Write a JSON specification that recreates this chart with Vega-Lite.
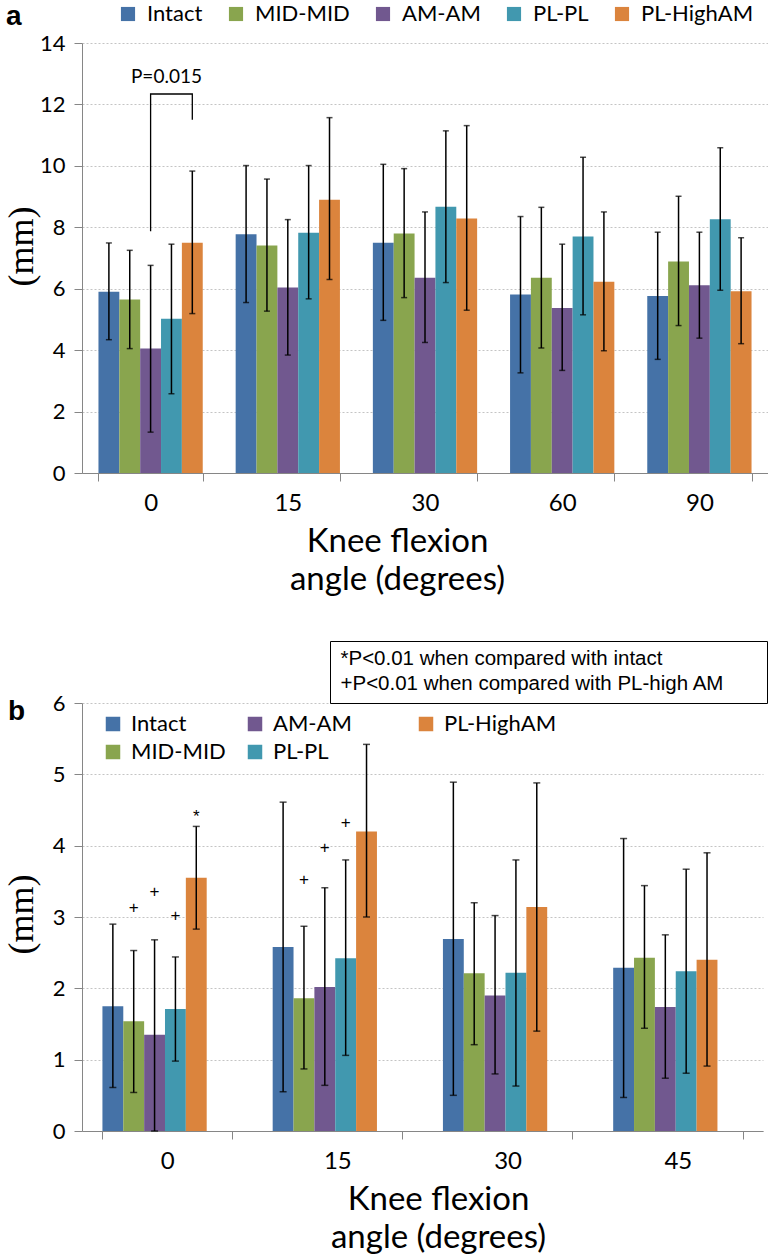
{
  "$schema": "https://vega.github.io/schema/vega-lite/v6.json",
  "padding": {"top": 3, "left": 3, "right": 0, "bottom": 0},
  "background": "white",
  "spacing": 44,
  "resolve": {"legend": {"color": "independent", "shape": "independent"}, "scale": {"color": "independent"}},
  "config": {
    "font": "Lato",
    "view": {"stroke": null},
    "axis": {
      "domainColor": "#868686",
      "tickColor": "#868686",
      "labelColor": "#000000",
      "titleColor": "#000000",
      "labelFont": "Lato",
      "titleFont": "Lato",
      "gridColor": "#c4c4c4",
      "gridDash": [2, 2],
      "tickSize": 8
    },
    "legend": {"padding": 0}
  },
  "datasets": {
    "a": [
      {"angle": "0", "group": "Intact", "mean": 5.9, "lo": 4.34, "hi": 7.49},
      {"angle": "0", "group": "MID-MID", "mean": 5.65, "lo": 4.05, "hi": 7.25},
      {"angle": "0", "group": "AM-AM", "mean": 4.05, "lo": 1.33, "hi": 6.76},
      {"angle": "0", "group": "PL-PL", "mean": 5.02, "lo": 2.58, "hi": 7.45},
      {"angle": "0", "group": "PL-HighAM", "mean": 7.5, "lo": 5.19, "hi": 9.83},
      {"angle": "15", "group": "Intact", "mean": 7.77, "lo": 5.55, "hi": 10.01},
      {"angle": "15", "group": "MID-MID", "mean": 7.41, "lo": 5.27, "hi": 9.57},
      {"angle": "15", "group": "AM-AM", "mean": 6.04, "lo": 3.84, "hi": 8.25},
      {"angle": "15", "group": "PL-PL", "mean": 7.82, "lo": 5.67, "hi": 10.01},
      {"angle": "15", "group": "PL-HighAM", "mean": 8.9, "lo": 6.3, "hi": 11.57},
      {"angle": "30", "group": "Intact", "mean": 7.5, "lo": 4.97, "hi": 10.05},
      {"angle": "30", "group": "MID-MID", "mean": 7.8, "lo": 5.71, "hi": 9.91},
      {"angle": "30", "group": "AM-AM", "mean": 6.36, "lo": 4.25, "hi": 8.5},
      {"angle": "30", "group": "PL-PL", "mean": 8.67, "lo": 6.2, "hi": 11.14},
      {"angle": "30", "group": "PL-HighAM", "mean": 8.29, "lo": 5.3, "hi": 11.31},
      {"angle": "60", "group": "Intact", "mean": 5.81, "lo": 3.26, "hi": 8.35},
      {"angle": "60", "group": "MID-MID", "mean": 6.36, "lo": 4.07, "hi": 8.65},
      {"angle": "60", "group": "AM-AM", "mean": 5.37, "lo": 3.34, "hi": 7.45},
      {"angle": "60", "group": "PL-PL", "mean": 7.7, "lo": 5.15, "hi": 10.28},
      {"angle": "60", "group": "PL-HighAM", "mean": 6.23, "lo": 3.98, "hi": 8.5},
      {"angle": "90", "group": "Intact", "mean": 5.76, "lo": 3.7, "hi": 7.84},
      {"angle": "90", "group": "MID-MID", "mean": 6.89, "lo": 4.8, "hi": 9.01},
      {"angle": "90", "group": "AM-AM", "mean": 6.11, "lo": 4.39, "hi": 7.84},
      {"angle": "90", "group": "PL-PL", "mean": 8.26, "lo": 5.95, "hi": 10.59},
      {"angle": "90", "group": "PL-HighAM", "mean": 5.92, "lo": 4.21, "hi": 7.66}
    ],
    "b": [
      {"angle": "0", "group": "Intact", "mean": 1.75, "lo": 0.61, "hi": 2.9},
      {"angle": "0", "group": "MID-MID", "mean": 1.54, "lo": 0.54, "hi": 2.53},
      {"angle": "0", "group": "AM-AM", "mean": 1.35, "lo": 0.0, "hi": 2.68},
      {"angle": "0", "group": "PL-PL", "mean": 1.71, "lo": 0.98, "hi": 2.44},
      {"angle": "0", "group": "PL-HighAM", "mean": 3.55, "lo": 2.83, "hi": 4.27},
      {"angle": "15", "group": "Intact", "mean": 2.58, "lo": 0.55, "hi": 4.61},
      {"angle": "15", "group": "MID-MID", "mean": 1.86, "lo": 0.87, "hi": 2.87},
      {"angle": "15", "group": "AM-AM", "mean": 2.02, "lo": 0.64, "hi": 3.41},
      {"angle": "15", "group": "PL-PL", "mean": 2.42, "lo": 1.06, "hi": 3.8},
      {"angle": "15", "group": "PL-HighAM", "mean": 4.2, "lo": 3.0, "hi": 5.42},
      {"angle": "30", "group": "Intact", "mean": 2.69, "lo": 0.5, "hi": 4.89},
      {"angle": "30", "group": "MID-MID", "mean": 2.21, "lo": 1.21, "hi": 3.2},
      {"angle": "30", "group": "AM-AM", "mean": 1.9, "lo": 0.8, "hi": 3.02},
      {"angle": "30", "group": "PL-PL", "mean": 2.22, "lo": 0.63, "hi": 3.8},
      {"angle": "30", "group": "PL-HighAM", "mean": 3.14, "lo": 1.4, "hi": 4.88},
      {"angle": "45", "group": "Intact", "mean": 2.29, "lo": 0.47, "hi": 4.1},
      {"angle": "45", "group": "MID-MID", "mean": 2.43, "lo": 1.44, "hi": 3.44},
      {"angle": "45", "group": "AM-AM", "mean": 1.74, "lo": 0.74, "hi": 2.75},
      {"angle": "45", "group": "PL-PL", "mean": 2.24, "lo": 0.81, "hi": 3.67},
      {"angle": "45", "group": "PL-HighAM", "mean": 2.4, "lo": 0.91, "hi": 3.9}
    ],
    "bracket": [
      {"angle": "0", "group": "AM-AM", "y": 7.87, "o": 1},
      {"angle": "0", "group": "AM-AM", "y": 12.34, "o": 2},
      {"angle": "0", "group": "PL-HighAM", "y": 12.34, "o": 3},
      {"angle": "0", "group": "PL-HighAM", "y": 11.5, "o": 4}
    ],
    "ptext": [
      {"angle": "0", "group": "PL-PL", "y": 12.9, "label": "P=0.015"}
    ],
    "signs": [
      {"angle": "0", "group": "MID-MID", "y": 3.12, "sym": "+"},
      {"angle": "0", "group": "AM-AM", "y": 3.35, "sym": "+"},
      {"angle": "0", "group": "PL-PL", "y": 3.01, "sym": "+"},
      {"angle": "0", "group": "PL-HighAM", "y": 4.4, "sym": "*"},
      {"angle": "15", "group": "MID-MID", "y": 3.52, "sym": "+"},
      {"angle": "15", "group": "AM-AM", "y": 3.97, "sym": "+"},
      {"angle": "15", "group": "PL-PL", "y": 4.32, "sym": "+"}
    ],
    "notes": [
      {"note": "*P<0.01 when compared with intact"},
      {"note": "+P<0.01 when compared with PL-high AM"}
    ]
  },
  "vconcat": [
    {
      "width": 686,
      "height": 430,
      "title": {"text": "a", "anchor": "start", "frame": "bounds", "font": "Liberation Sans", "fontSize": 28, "fontWeight": "bold", "color": "#000000", "offset": -28, "dx": 3, "baseline": "top"},
      "encoding": {
        "x": {
          "field": "angle", "type": "nominal", "sort": ["0", "15", "30", "60", "90"],
          "scale": {"paddingInner": 0.24, "paddingOuter": 0.12},
          "axis": {
            "labelAngle": 0, "labelFontSize": 24, "labelPadding": 10, "tickBand": "extent", "grid": false,
            "title": ["Knee flexion", "angle (degrees)"], "titleFontSize": 33, "titleFontWeight": "normal",
            "titleLineHeight": 38, "titlePadding": 10, "titleX": 315
          }
        },
        "xOffset": {
          "field": "group", "type": "nominal",
          "scale": {"domain": ["Intact", "MID-MID", "AM-AM", "PL-PL", "PL-HighAM"], "paddingInner": 0, "paddingOuter": 0}
        }
      },
      "layer": [
        {
          "data": {"name": "a"},
          "mark": {"type": "bar"},
          "encoding": {
            "y": {
              "field": "mean", "type": "quantitative",
              "scale": {"domain": [0, 14], "nice": false},
              "axis": {
                "values": [0, 2, 4, 6, 8, 10, 12, 14], "labelFontSize": 22, "labelPadding": 9, "grid": true,
                "title": "(mm)", "titleFont": "Liberation Serif", "titleFontSize": 36, "titleFontWeight": "normal",
                "titleX": -61, "titleY": 203, "titleAngle": 270, "titleAlign": "center", "titleBaseline": "middle"
              }
            },
            "color": {
              "field": "group", "type": "nominal",
              "scale": {"domain": ["Intact", "MID-MID", "AM-AM", "PL-PL", "PL-HighAM"], "range": ["#4572A7", "#89A54E", "#71588F", "#4198AF", "#DB843D"]},
              "legend": {
                "title": null, "orient": "none", "direction": "horizontal", "legendX": 35, "legendY": -40,
                "symbolType": "square", "symbolSize": 200, "symbolStrokeWidth": 0, "labelFontSize": 22, "labelFont": "Lato",
                "labelColor": "#000000", "labelOffset": 8, "columnPadding": 22
              }
            }
          }
        },
        {
          "data": {"name": "a"},
          "mark": {"type": "rule", "color": "#000000", "strokeWidth": 1.5},
          "encoding": {"y": {"field": "lo", "type": "quantitative"}, "y2": {"field": "hi"}}
        },
        {
          "data": {"name": "a"},
          "mark": {"type": "tick", "color": "#000000", "size": 6, "thickness": 1.5},
          "encoding": {"y": {"field": "hi", "type": "quantitative"}}
        },
        {
          "data": {"name": "a"},
          "mark": {"type": "tick", "color": "#000000", "size": 6, "thickness": 1.5},
          "encoding": {"y": {"field": "lo", "type": "quantitative"}}
        },
        {
          "data": {"name": "bracket"},
          "mark": {"type": "line", "color": "#000000", "strokeWidth": 1.3},
          "encoding": {"y": {"field": "y", "type": "quantitative"}, "order": {"field": "o"}}
        },
        {
          "data": {"name": "ptext"},
          "mark": {"type": "text", "fontSize": 19, "font": "Lato", "color": "#000000", "baseline": "middle", "dx": -5},
          "encoding": {"y": {"field": "y", "type": "quantitative"}, "text": {"field": "label"}}
        }
      ]
    },
    {
      "width": 681,
      "height": 428,
      "title": {"text": "b", "anchor": "start", "frame": "bounds", "font": "Liberation Sans", "fontSize": 28, "fontWeight": "bold", "color": "#000000", "offset": -85, "dx": 5, "baseline": "top"},
      "encoding": {
        "x": {
          "field": "angle", "type": "nominal", "sort": ["0", "15", "30", "45"],
          "scale": {"paddingInner": 0.24, "paddingOuter": 0.12},
          "axis": {
            "labelAngle": 0, "labelFontSize": 24, "labelPadding": 10, "tickBand": "extent", "grid": false,
            "title": ["Knee flexion", "angle (degrees)"], "titleFontSize": 33, "titleFontWeight": "normal",
            "titleLineHeight": 38, "titlePadding": 10, "titleX": 356
          }
        },
        "xOffset": {
          "field": "group", "type": "nominal",
          "scale": {"domain": ["Intact", "MID-MID", "AM-AM", "PL-PL", "PL-HighAM"], "paddingInner": 0, "paddingOuter": 0}
        }
      },
      "layer": [
        {
          "data": {"name": "b"},
          "mark": {"type": "bar"},
          "encoding": {
            "y": {
              "field": "mean", "type": "quantitative",
              "scale": {"domain": [0, 6], "nice": false},
              "axis": {
                "values": [0, 1, 2, 3, 4, 5, 6], "format": "d", "labelFontSize": 22, "labelPadding": 9, "grid": true,
                "title": "(mm)", "titleFont": "Liberation Serif", "titleFontSize": 36, "titleFontWeight": "normal",
                "titleX": -61, "titleY": 211, "titleAngle": 270, "titleAlign": "center", "titleBaseline": "middle"
              }
            },
            "color": {
              "field": "group", "type": "nominal",
              "scale": {"domain": ["Intact", "MID-MID", "AM-AM", "PL-PL", "PL-HighAM"], "range": ["#4572A7", "#89A54E", "#71588F", "#4198AF", "#DB843D"]},
              "legend": {
                "title": null, "orient": "none", "columns": 3, "legendX": 20, "legendY": 10,
                "symbolType": "square", "symbolSize": 210, "symbolStrokeWidth": 0, "labelFontSize": 22, "labelFont": "Lato",
                "labelColor": "#000000", "labelOffset": 7, "columnPadding": 18, "rowPadding": 6,
                "labelExpr": "datum.label == 'AM-AM' ? 'AM-AM\u00a0\u00a0\u00a0\u00a0\u00a0\u00a0\u00a0\u00a0\u200b' : datum.label"
              }
            }
          }
        },
        {
          "data": {"name": "b"},
          "mark": {"type": "rule", "color": "#000000", "strokeWidth": 1.5},
          "encoding": {"y": {"field": "lo", "type": "quantitative"}, "y2": {"field": "hi"}}
        },
        {
          "data": {"name": "b"},
          "mark": {"type": "tick", "color": "#000000", "size": 7, "thickness": 1.5},
          "encoding": {"y": {"field": "hi", "type": "quantitative"}}
        },
        {
          "data": {"name": "b"},
          "mark": {"type": "tick", "color": "#000000", "size": 7, "thickness": 1.5},
          "encoding": {"y": {"field": "lo", "type": "quantitative"}}
        },
        {
          "data": {"name": "signs"},
          "mark": {"type": "text", "fontSize": 17, "font": "Liberation Sans", "color": "#000000", "baseline": "middle"},
          "encoding": {"y": {"field": "y", "type": "quantitative"}, "text": {"field": "sym"}}
        },
        {
          "data": {"name": "notes"},
          "mark": {"type": "point", "opacity": 0},
          "encoding": {
            "x": null, "xOffset": null,
            "shape": {
              "field": "note", "type": "nominal",
              "legend": {
                "title": null, "orient": "none", "legendX": 248, "legendY": -62, "direction": "vertical",
                "strokeColor": "#000000", "fillColor": "#ffffff", "padding": 8, "symbolOpacity": 0, "symbolSize": 0,
                "labelOffset": -18, "labelFont": "Liberation Sans", "labelFontSize": 20.5, "labelColor": "#000000",
                "labelLimit": 600, "rowPadding": 4, "labelExpr": "datum.label + '\u00a0\u00a0\u00a0\u00a0\u00a0\u00a0\u200b'"
              }
            }
          }
        }
      ]
    }
  ]
}
